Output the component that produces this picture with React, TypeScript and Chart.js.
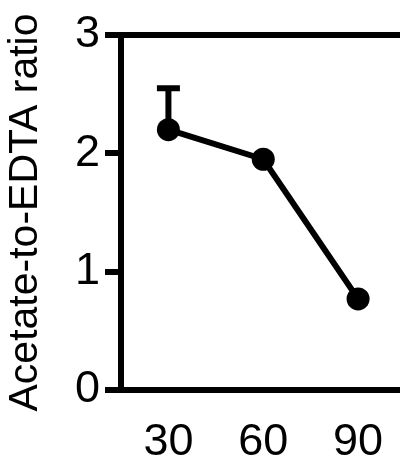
import React, { useEffect, useRef } from "react";
import { Chart, registerables } from "chart.js";

Chart.register(...registerables);

const categories = ["30", "60", "90"];
const ratioValues = [2.2, 1.95, 0.77];
const errorUpper = [2.55, null, null];
const yTicks = [0, 1, 2, 3];
const yTitle = "Acetate-to-EDTA ratio";

const FONT = "'Liberation Sans', Arial, sans-serif";

const errorBarPlugin = {
  id: "errorBars",
  afterDatasetsDraw(chart: any) {
    const { ctx, scales } = chart;
    const x = scales.x;
    const y = scales.y;
    ctx.save();
    ctx.strokeStyle = "#000";
    ctx.lineCap = "butt";
    errorUpper.forEach((top, i) => {
      if (top == null) return;
      const px = x.getPixelForValue(i);
      const py = y.getPixelForValue(ratioValues[i]);
      const pt = y.getPixelForValue(top);
      ctx.lineWidth = 6;
      ctx.beginPath();
      ctx.moveTo(px, py);
      ctx.lineTo(px, pt);
      ctx.stroke();
      ctx.lineWidth = 6;
      ctx.beginPath();
      ctx.moveTo(px - 11.5, pt);
      ctx.lineTo(px + 11.5, pt);
      ctx.stroke();
    });
    ctx.restore();
  },
};

export default function App() {
  const ref = useRef<HTMLCanvasElement>(null);
  useEffect(() => {
    if (!ref.current) return;
    const chart = new Chart(ref.current, {
      type: "line",
      data: {
        labels: categories,
        datasets: [
          {
            data: ratioValues,
            borderColor: "#000",
            backgroundColor: "#000",
            borderWidth: 6,
            pointRadius: 11.5,
            pointBackgroundColor: "#000",
            pointBorderWidth: 0,
            tension: 0,
          },
        ],
      },
      options: {
        responsive: false,
        animation: false,
        devicePixelRatio: 1,
        layout: { padding: { top: 35, right: 0, left: 0, bottom: 0 } },
        plugins: { legend: { display: false }, tooltip: { enabled: false } },
        scales: {
          x: {
            type: "category",
            offset: true,
            grid: { display: true, color: "transparent", drawTicks: false },
            border: { display: true, color: "#000", width: 6 },
            ticks: {
              color: "#000",
              padding: 26,
              font: { family: FONT, size: 45 },
              maxRotation: 0,
            },
            afterFit: (s: any) => {
              s.height = 76;
              s.paddingLeft = 0;
              s.paddingRight = 0;
            },
          },
          y: {
            min: 0,
            max: 3,
            afterBuildTicks: (s: any) => {
              s.ticks = yTicks.map((v) => ({ value: v }));
            },
            grid: {
              color: (c: any) => (c.tick && c.tick.value === 3 ? "#000" : "transparent"),
              tickColor: "#000",
              lineWidth: 6,
              tickLength: 16,
            },
            border: { display: true, color: "#000", width: 6 },
            ticks: {
              color: "#000",
              padding: 5,
              font: { family: FONT, size: 45 },
            },
            title: {
              display: true,
              text: yTitle,
              color: "#000",
              font: { family: FONT, size: 41, weight: "normal" },
              padding: { top: 1, bottom: 0 },
            },
            afterFit: (s: any) => {
              s.width = 121;
            },
          },
        },
      },
      plugins: [errorBarPlugin],
    });
    return () => chart.destroy();
  }, []);
  return (
    <div style={{ position: "fixed", left: 0, top: 0, width: 400, height: 466, overflow: "hidden", background: "#fff" }}>
      <canvas ref={ref} width={417} height={466} style={{ display: "block" }} />
    </div>
  );
}
